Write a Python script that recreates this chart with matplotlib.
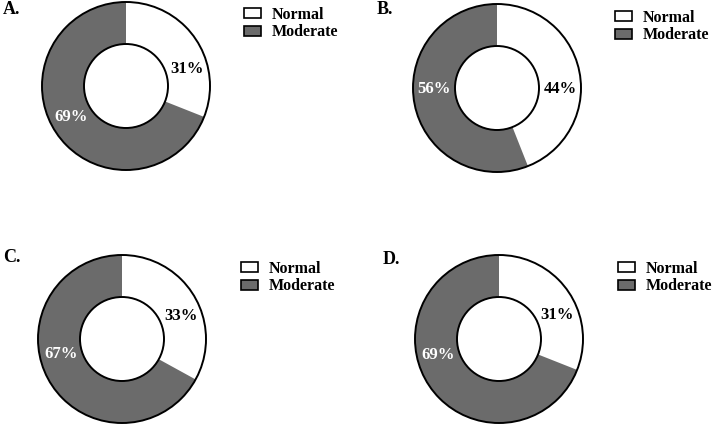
import numpy as np
import matplotlib.pyplot as plt
from matplotlib.patches import Patch, Circle

plt.rcParams['font.family'] = ['Liberation Serif', 'DejaVu Serif']
plt.rcParams['font.weight'] = 'bold'

# data
panels = ['A.', 'B.', 'C.', 'D.']
categories = ['Normal', 'Moderate']
normal_pct = [31, 44, 33, 31]
moderate_pct = [69, 56, 67, 69]

colors = ['white', '#6b6b6b']
text_colors = ['black', 'white']

W, H = 714, 425
fig = plt.figure(figsize=(W / 100, H / 100), dpi=100)

# layout in pixels (from top-left)
centers = [(126, 86), (497, 88), (122, 339), (499, 339)]
r_px = 84
pad = 1.05
tag_pos = [(3, 9), (377, 9), (3, 258), (383, 260)]
legend_pos = [(244, 7), (615, 10), (241, 261), (618, 261)]
label_angles = [(16, 210), (-1, 181), (21, 194), (22, 195)]

for i, tag in enumerate(panels):
    cx, cy = centers[i]
    half = r_px * pad
    ax = fig.add_axes([(cx - half) / W, 1 - (cy + half) / H, 2 * half / W, 2 * half / H])
    vals = [normal_pct[i], moderate_pct[i]]
    wedges, _ = ax.pie(vals, colors=colors, startangle=90, counterclock=False,
                       radius=1, wedgeprops=dict(width=0.5, edgecolor='none'))
    ax.add_patch(Circle((0, 0), 1, fill=False, ec='black', lw=1.4))
    ax.add_patch(Circle((0, 0), 0.5, fill=False, ec='black', lw=1.4))
    for v, ang, tc in zip(vals, label_angles[i], text_colors):
        a = np.deg2rad(ang)
        ax.text(0.75 * np.cos(a), 0.75 * np.sin(a), f'{v}%', ha='center', va='center',
                fontsize=12, fontweight='bold', color=tc)
    ax.set_xlim(-pad, pad)
    ax.set_ylim(-pad, pad)
    ax.set_aspect('equal')
    ax.axis('off')

    handles = [Patch(facecolor=c, edgecolor='black', lw=1.2) for c in colors]
    lx, ly = legend_pos[i]
    ax.legend(handles, categories, loc='upper left', bbox_to_anchor=(lx / W, 1 - ly / H),
              bbox_transform=fig.transFigure, frameon=False,
              prop=dict(weight='bold', size=11.5), borderaxespad=0, borderpad=0,
              handlelength=1.05, handleheight=0.6, handletextpad=0.7, labelspacing=0.08)

    tx, ty = tag_pos[i]
    fig.text(tx / W, 1 - ty / H, tag, ha='left', va='center', fontsize=13, fontweight='bold')

fig.savefig('out.png', dpi=100)
